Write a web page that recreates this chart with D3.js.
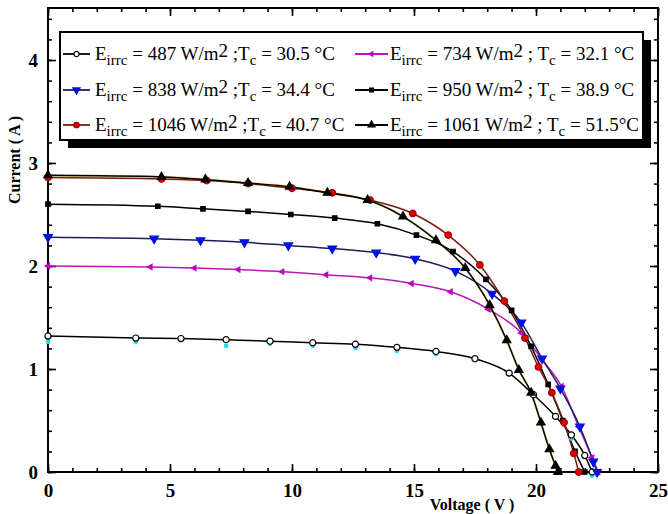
<!DOCTYPE html>
<html>
<head>
<meta charset="utf-8">
<script src="https://cdn.jsdelivr.net/npm/d3@7"></script>
<style>
  html, body { margin: 0; padding: 0; background: #fff; }
  svg { display: block; font-family: "Liberation Serif", "Times New Roman", serif; }
</style>
</head>
<body>
<svg id="chart" width="668" height="514"></svg>
<script>
// I-V characteristics of a PV module under six irradiance / cell temperature conditions.
// Each series: [voltage (V), current (A)]
const s487 = [[0,1.32],[3.6,1.30],[5.45,1.295],[7.3,1.285],[9.1,1.27],[10.85,1.255],[12.6,1.24],[14.3,1.21],
  [15.9,1.17],[17.5,1.10],[18.9,0.96],[19.9,0.75],[20.8,0.54],[21.45,0.36],[22.0,0.16],[22.3,0]];
const s487meas = [[0,1.28],[3.6,1.28],[7.3,1.24],[9.1,1.26],[10.85,1.24],[12.6,1.22],[14.3,1.19],
  [15.9,1.16],[19.9,0.77],[21.45,0.34],[22.3,-0.02]];
const s734 = [[0,2.0],[4.2,1.99],[6.0,1.98],[7.8,1.965],[9.6,1.945],[11.4,1.915],[13.2,1.885],[14.9,1.83],
  [16.5,1.75],[18.05,1.58],[19.4,1.35],[20.25,1.09],[21.05,0.83],[21.75,0.44],[22.3,0.14],[22.55,0]];
const s838 = [[0,2.28],[4.35,2.265],[6.25,2.25],[8.05,2.23],[9.85,2.2],[11.65,2.17],[13.45,2.13],[15.05,2.07],
  [16.7,1.95],[18.2,1.73],[19.4,1.45],[20.25,1.10],[21.0,0.81],[21.8,0.44],[22.35,0.1],[22.5,0]];
const s950 = [[0,2.60],[4.5,2.58],[6.35,2.555],[8.2,2.53],[9.95,2.50],[11.75,2.465],[13.5,2.41],[15.1,2.30],
  [16.6,2.14],[17.95,1.87],[19.0,1.57],[19.8,1.22],[20.5,0.85],[21.1,0.50],[21.6,0.20],[22.0,0]];
const s1046 = [[0,2.86],[4.65,2.845],[6.5,2.83],[8.2,2.80],[10.0,2.755],[11.65,2.71],[13.2,2.64],[14.95,2.51],
  [16.4,2.30],[17.7,2.01],[18.7,1.66],[19.55,1.30],[20.1,1.02],[20.65,0.77],[21.15,0.48],[21.55,0.18],[21.75,0]];
const s1061 = [[0,2.88],[4.65,2.865],[6.45,2.84],[8.2,2.805],[9.9,2.77],[11.45,2.71],[13.1,2.64],[14.55,2.48],
  [15.9,2.25],[17.1,1.98],[18.1,1.62],[18.8,1.28],[19.3,0.99],[19.8,0.77],[20.2,0.48],[20.55,0.22],[20.8,0.06],[20.9,0]];

const irradiance = ["487", "734", "838", "950", "1046", "1061"];
const cellTemp = ["30.5 °C", "32.1 °C", "34.4 °C", "38.9 °C", "40.7 °C", "51.5°C"];
const xTicks = [0, 5, 10, 15, 20, 25];
const yTicks = [0, 1, 2, 3, 4];

const series = [
  {data: s487,  line: "#000", fill: "#fff",    stroke: "#000",    sym: d3.symbolCircle,   size: 30, rot: 0},
  {data: s734,  line: "#b818b8", fill: "#c000c0", stroke: "#c000c0", sym: d3.symbolTriangle, size: 12, rot: -90},
  {data: s838,  line: "#1c1c5a", fill: "#0010e0", stroke: "#0010e0", sym: d3.symbolTriangle, size: 32, rot: 180},
  {data: s950,  line: "#000", fill: "#000",    stroke: "#000",    sym: d3.symbolSquare,   size: 20, rot: 0},
  {data: s1046, line: "#7a1c12", fill: "#e00000", stroke: "#a00000", sym: d3.symbolCircle,   size: 34, rot: 0},
  {data: s1061, line: "#000", fill: "#000",    stroke: "#000",    sym: d3.symbolTriangle, size: 30, rot: 0}
];

const svg = d3.select("#chart");
const x = d3.scaleLinear().domain([0, 25]).range([48, 658]);
const y = d3.scaleLinear().domain([0, 4.5]).range([472, 8.5]);

// ---- axes with inward ticks on all four sides ----
function styleAxis(g) {
  g.select(".domain").remove();
  g.selectAll(".tick line").attr("stroke", "#000").attr("stroke-width", 1.6);
  g.selectAll("text").attr("font-family", "Liberation Serif, serif").attr("font-weight", "bold")
    .attr("font-size", 19).attr("fill", "#000");
}
const xMinor = d3.range(0, 26, 1);
const yMinor = d3.range(0, 4.41, 0.2);

svg.append("g").attr("transform", "translate(0,472)")
  .call(d3.axisBottom(x).tickValues(xMinor).tickSize(-4).tickFormat("")).call(styleAxis);
svg.append("g").attr("transform", "translate(0,472)")
  .call(d3.axisBottom(x).tickValues(xTicks).tickSize(-8).tickPadding(12).tickFormat(d3.format("d"))).call(styleAxis);
svg.append("g").attr("transform", "translate(0,8)")
  .call(d3.axisTop(x).tickValues(xMinor).tickSize(-4).tickFormat("")).call(styleAxis);
svg.append("g").attr("transform", "translate(0,8)")
  .call(d3.axisTop(x).tickValues(xTicks).tickSize(-8).tickFormat("")).call(styleAxis);

svg.append("g").attr("transform", "translate(48,0)")
  .call(d3.axisLeft(y).tickValues(yMinor).tickSize(-4).tickFormat("")).call(styleAxis);
svg.append("g").attr("transform", "translate(48,0)")
  .call(d3.axisLeft(y).tickValues(yTicks).tickSize(-8).tickPadding(10).tickFormat(d3.format("d"))).call(styleAxis);
svg.append("g").attr("transform", "translate(658,0)")
  .call(d3.axisRight(y).tickValues(yMinor).tickSize(-4).tickFormat("")).call(styleAxis);
svg.append("g").attr("transform", "translate(658,0)")
  .call(d3.axisRight(y).tickValues(yTicks).tickSize(-8).tickFormat("")).call(styleAxis);

// plot frame
svg.append("rect").attr("x", 48).attr("y", 8).attr("width", 610).attr("height", 464)
  .attr("fill", "none").attr("stroke", "#000").attr("stroke-width", 2);

// axis titles
svg.append("text").attr("transform", "translate(20,160) rotate(-90)")
  .attr("text-anchor", "middle").attr("font-weight", "bold").attr("font-size", 16)
  .text("Current ( A )");
svg.append("text").attr("x", 472).attr("y", 510)
  .attr("text-anchor", "middle").attr("font-weight", "bold").attr("font-size", 16)
  .text("Voltage ( V )");

// ---- curves ----
const line = d3.line().x(d => x(d[0])).y(d => y(d[1])).curve(d3.curveMonotoneX);
const plot = svg.append("g");

// faint yellow halo under the 1061 W/m2 curve
plot.append("path").datum(s1061).attr("d", line).attr("fill", "none")
  .attr("stroke", "#eee39a").attr("stroke-width", 2.6);

series.forEach(s => {
  plot.append("path").datum(s.data).attr("d", line).attr("fill", "none")
    .attr("stroke", s.line).attr("stroke-width", 1.5);
});

// measured points for the 487 W/m2 case
plot.selectAll(".meas").data(s487meas).join("circle")
  .attr("cx", d => x(d[0])).attr("cy", d => y(d[1]) + 1.5).attr("r", 2.4)
  .attr("fill", "#10e0f0");

series.forEach(s => {
  const sym = d3.symbol().type(s.sym).size(s.size);
  plot.selectAll(null).data(s.data).join("path")
    .attr("d", sym)
    .attr("transform", d => `translate(${x(d[0])},${y(d[1])}) rotate(${s.rot})`)
    .attr("fill", s.fill).attr("stroke", s.stroke).attr("stroke-width", 1.2);
});

// ---- legend ----
const lg = svg.append("g");
lg.append("rect").attr("x", 68).attr("y", 40).attr("width", 583).attr("height", 108).attr("fill", "#000");
lg.append("rect").attr("x", 60).attr("y", 32).attr("width", 583).attr("height", 108)
  .attr("fill", "#fff").attr("stroke", "#000").attr("stroke-width", 2);

const colX = [[63, 90, 95], [355, 388, 390]];
const rowY = [60, 96, 131];
series.forEach((s, i) => {
  const col = i % 2, row = Math.floor(i / 2);
  const [x0, x1, tx] = colX[col];
  const yy = rowY[row] - 6;
  lg.append("line").attr("x1", x0).attr("x2", x1).attr("y1", yy).attr("y2", yy)
    .attr("stroke", s.line).attr("stroke-width", 1.8);
  lg.append("path").attr("d", d3.symbol().type(s.sym).size(s.size * 0.7)())
    .attr("transform", `translate(${(x0 + x1) / 2},${yy}) rotate(${s.rot})`)
    .attr("fill", s.fill).attr("stroke", s.stroke).attr("stroke-width", 1.2);

  const t = lg.append("text").attr("x", tx).attr("y", rowY[row]).attr("font-size", 19);
  const sep = col === 0 ? " ;" : " ; ";
  t.append("tspan").text("E");
  t.append("tspan").attr("dy", 5).attr("font-size", 15).text("irrc");
  t.append("tspan").attr("dy", -5).text(` = ${irradiance[i]} W/m`);
  t.append("tspan").attr("dy", -3).text("2");
  t.append("tspan").attr("dy", 3).text(sep + "T");
  t.append("tspan").attr("dy", 5).attr("font-size", 15).text("c");
  t.append("tspan").attr("dy", -5).text(" = " + cellTemp[i]);
});
</script>
</body>
</html>
